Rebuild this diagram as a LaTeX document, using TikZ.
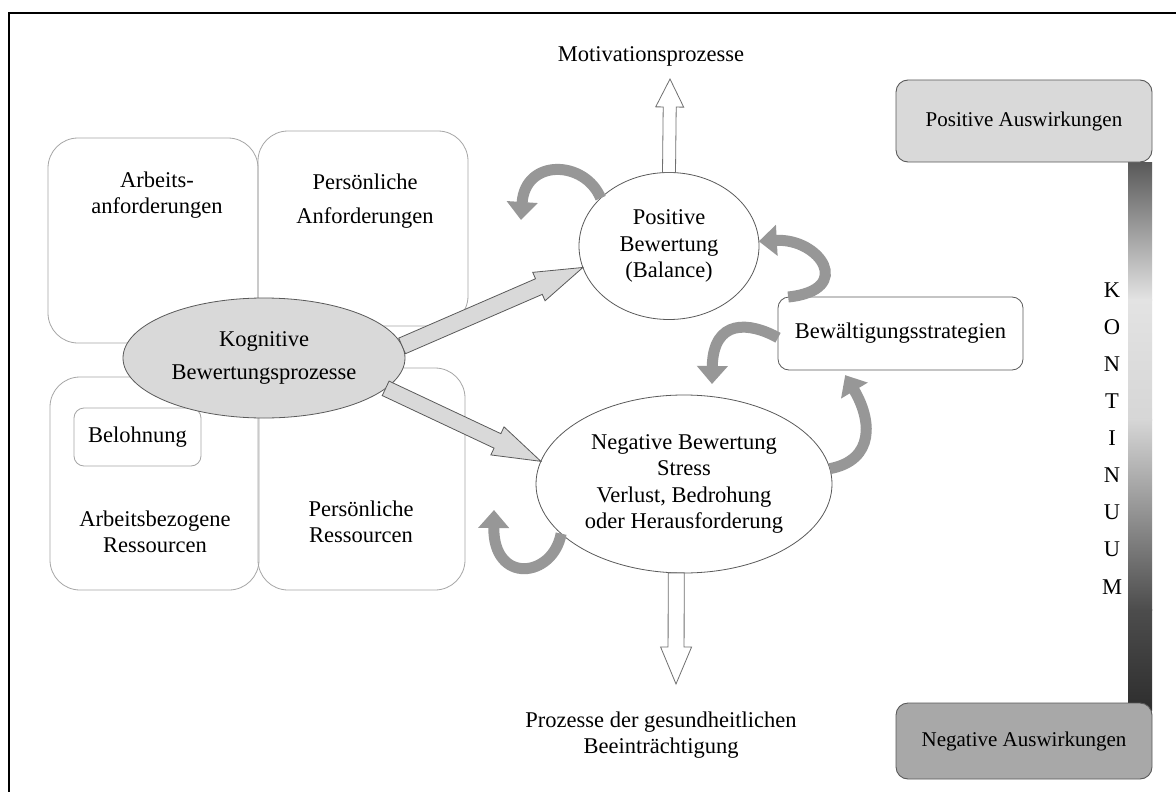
\documentclass[tikz,border=0pt]{standalone}
\usepackage{fontspec}
\setmainfont{Liberation Serif}
\usetikzlibrary{shapes.geometric,arrows.meta,calc}
\definecolor{boxline}{HTML}{A6A6A6}
\definecolor{darkline}{HTML}{5A5A5A}
\definecolor{lightfill}{HTML}{D9D9D9}
\definecolor{midfill}{HTML}{A8A8A8}
\definecolor{ribboncol}{HTML}{979797}
\definecolor{ribbondark}{HTML}{7A7A7A}
\definecolor{hollowline}{HTML}{707070}
\newcommand{\blockarr}[7]{%
  \coordinate (#7s) at (#2);
  \coordinate (#7e) at (#3);
  \coordinate (#7c) at ($(#7e)!#6!(#7s)$);
  \draw[#1] ($(#7s)!#4!90:(#7e)$) -- ($(#7c)!#4!90:(#7e)$) -- ($(#7c)!#5!90:(#7e)$) -- (#7e) -- ($(#7c)!#5!-90:(#7e)$) -- ($(#7c)!#4!-90:(#7e)$) -- ($(#7s)!#4!-90:(#7e)$) -- cycle;}
\begin{document}
\begin{tikzpicture}[x=1pt,y=-1pt,
  every node/.style={font=\fontsize{22.5}{26.5}\selectfont, inner sep=0pt, outer sep=0pt, align=center},
  quad/.style={draw=boxline, line width=0.8pt, rounded corners=30pt, rectangle},
  smallbox/.style={draw=boxline, line width=0.8pt, rounded corners=10pt, rectangle},
  ell/.style={ellipse, draw=darkline, line width=0.8pt},
  bewbox/.style={rectangle, draw=darkline, line width=0.8pt, rounded corners=11pt, fill=white},
  effbox/.style={rectangle, draw=darkline, line width=0.9pt, rounded corners=12pt, font=\fontsize{21}{25}\selectfont},
  blockstyle/.style={draw=darkline, fill=lightfill, line width=0.8pt, line join=miter},
  hollow/.style={draw=hollowline, fill=white, line width=0.8pt, line join=miter},
  ribbon/.style={draw=ribboncol, line width=11pt, line cap=butt, -{Triangle[width=30pt,length=18pt]}}
]
\useasboundingbox (0,0) rectangle (1176,792);
\fill[white] (0,0) rectangle (1176,792);
\draw[line width=1.5pt] (9,792) -- (9,13) -- (1176,13);

% left quadrant boxes
\node[quad, minimum width=210pt, minimum height=205pt] (b1) at (153,240.5) {};
\node[quad, minimum width=210pt, minimum height=195pt] (b2) at (363,228.5) {};
\node[quad, minimum width=209pt, minimum height=213pt] (b3) at (154.5,483.5) {};
\node[quad, minimum width=207pt, minimum height=222pt] (b4) at (361.5,479) {};
\node (t1) at (157,195) {Arbeits-\\anforderungen};
\node (t2) at (365,201) {Persönliche\\[8pt]Anforderungen};
\node (t3) at (155,532) {Arbeitsbezogene\\Ressourcen};
\node (t4) at (361,522) {Persönliche\\Ressourcen};
\node[smallbox, minimum width=127pt, minimum height=58pt] (bel) at (137.5,437) {Belohnung};

% central ellipse
\node[ell, fill=lightfill, minimum width=282pt, minimum height=120pt] (kog) at (264,358) {Kognitive\\[7pt]Bewertungsprozesse};

% outcome ellipses
\node[ell, fill=white, minimum width=180pt, minimum height=147pt] (pos) at (669,246) {Positive\\Bewertung\\(Balance)};
\node[ell, fill=white, minimum width=296pt, minimum height=178pt] (neg) at (684,484) {Negative Bewertung\\Stress\\Verlust, Bedrohung\\oder Herausforderung};

% block arrows
\blockarr{blockstyle}{kog.5}{pos.194}{8.5pt}{15.5pt}{48pt}{ka}
\blockarr{blockstyle}{kog.-14}{neg.171}{8pt}{15.5pt}{48pt}{kb}

% texts top / bottom
\node (motiv) at (651,56) {Motivationsprozesse};
\node (proz) at (661,735) {Prozesse der gesundheitlichen\\Beeinträchtigung};
\coordinate (uptip) at (670,79);
\coordinate (downtip) at (676,684);
\blockarr{hollow}{pos.north}{uptip}{6.5pt}{14pt}{28pt}{ua}
\blockarr{hollow}{neg.265}{downtip}{8pt}{15.5pt}{37pt}{da}

% coping box
\node[bewbox, minimum width=245pt, minimum height=73pt] (bew) at (900.5,333.5) {Bewältigungsstrategien};

% curved ribbons
\coordinate (ca) at (521,220);
\coordinate (cc) at (712,384);
\coordinate (ce) at (494,510);
\draw[ribbon] (pos.145) .. controls (585,160) and (525,158) .. (ca);
\draw[ribbon] (bew.162) .. controls (855,290) and (820,238) .. (pos.3);
\draw[ribbon] (bew.182) .. controls (750,322) and (713,318) .. (cc);
\draw[ribbon, shorten >=6pt] (neg.6) .. controls (875,460) and (872,420) .. (bew.212);
\draw[ribbon] (neg.202) .. controls (553,578) and (493,585) .. (ce);

% continuum bar
\shade[top color=black!65, bottom color=black!11] (1128,162) rectangle (1152,300);
\shade[top color=black!11, bottom color=black!16] (1128,299.5) rectangle (1152,420);
\shade[top color=black!16, bottom color=black!70] (1128,419.5) rectangle (1152,610);
\shade[top color=black!70, bottom color=black!82] (1128,609.5) rectangle (1152,710);

\node[effbox, fill=lightfill, minimum width=256pt, minimum height=82pt] (posa) at (1024,121) {Positive Auswirkungen};
\node[effbox, fill=midfill, minimum width=256pt, minimum height=76pt] (nega) at (1024,741) {Negative Auswirkungen};

\foreach \l [count=\i from 0] in {K,O,N,T,I,N,U,U,M}
  \node (kont\i) at (1112,{290+37.1*\i}) {\l};
\end{tikzpicture}
\end{document}
